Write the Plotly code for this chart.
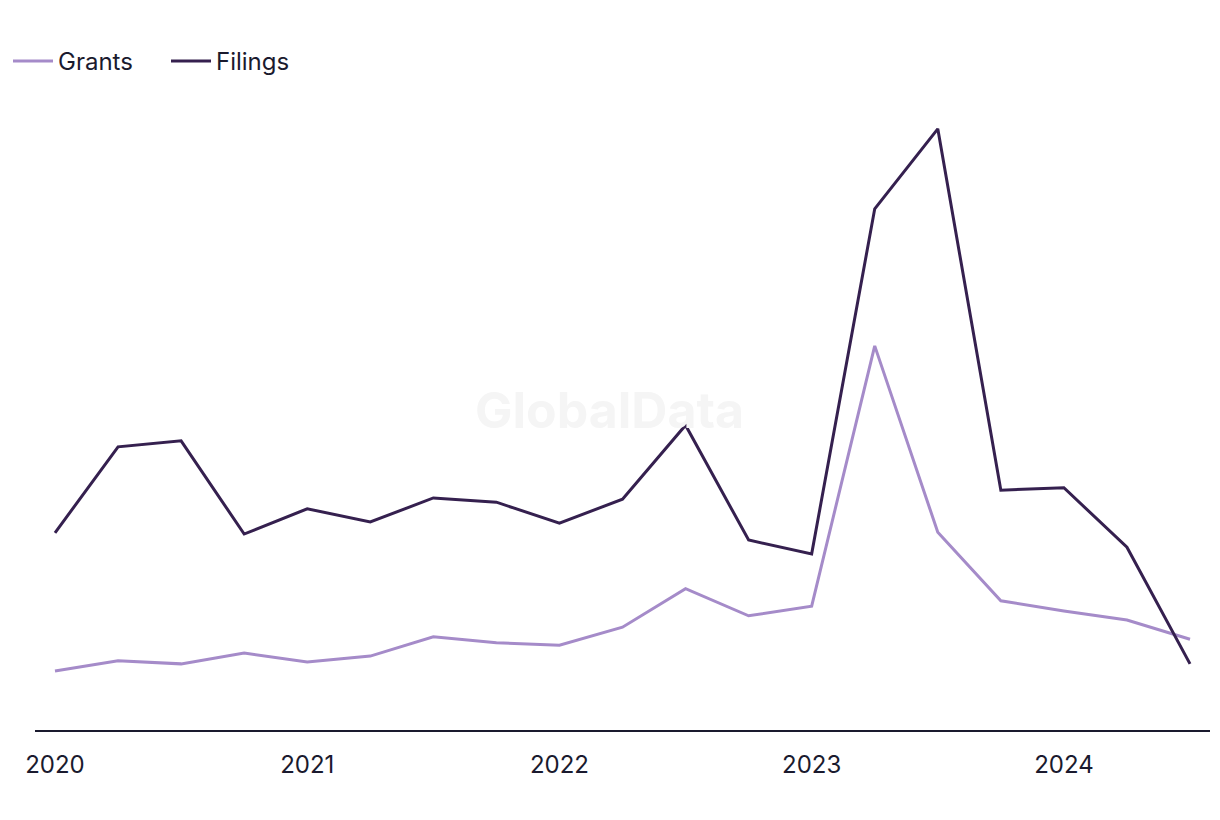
import plotly.graph_objects as go

quarters = ["2020 Q1", "2020 Q2", "2020 Q3", "2020 Q4",
            "2021 Q1", "2021 Q2", "2021 Q3", "2021 Q4",
            "2022 Q1", "2022 Q2", "2022 Q3", "2022 Q4",
            "2023 Q1", "2023 Q2", "2023 Q3", "2023 Q4",
            "2024 Q1", "2024 Q2", "2024 Q3"]
filings = [32.8, 47.1, 48.1, 32.6, 36.8, 34.6, 38.6, 37.9, 34.4, 38.4,
           50.7, 31.6, 29.3, 86.7, 100.0, 39.9, 40.3, 30.4, 11.0]
grants = [9.8, 11.5, 11.0, 12.8, 11.3, 12.3, 15.5, 14.5, 14.1, 17.1,
          23.5, 19.0, 20.6, 63.9, 32.9, 21.5, 19.8, 18.3, 15.1]
tick_labels = ["2020", "2021", "2022", "2023", "2024"]

idx = list(range(len(quarters)))
tickvals = [i for i, q in enumerate(quarters) if q.endswith("Q1")]

FONT = "Inter, Roboto, sans-serif"
TXT = "#1a1a2e"

fig = go.Figure()
fig.add_trace(go.Scatter(x=idx, y=grants, name="Grants", mode="lines",
                         line=dict(color="#a58bc9", width=3),
                         text=quarters, hovertemplate="%{text}: %{y}<extra>Grants</extra>"))
fig.add_trace(go.Scatter(x=idx, y=filings, name="Filings", mode="lines",
                         line=dict(color="#35204f", width=3),
                         text=quarters, hovertemplate="%{text}: %{y}<extra>Filings</extra>"))

fig.add_annotation(text="<b>GlobalData</b>", x=0.489, y=0.508, xref="paper", yref="paper",
                   xanchor="center", yanchor="middle", showarrow=False,
                   font=dict(size=50, color="#f5f5f5", family=FONT))

fig.update_layout(
    width=1220, height=820,
    paper_bgcolor="white", plot_bgcolor="white",
    margin=dict(l=27, r=18, t=92, b=98, autoexpand=False),
    font=dict(family=FONT, size=24, color=TXT),
    showlegend=True,
    legend=dict(orientation="h", xref="container", yref="container",
                x=0.0, xanchor="left", y=0.935, yanchor="middle",
                font=dict(size=24, color=TXT), itemwidth=40,
                entrywidth=103, entrywidthmode="pixels",
                bgcolor="rgba(0,0,0,0)"),
    xaxis=dict(range=[-0.317, 18.317], tickvals=tickvals, ticktext=tick_labels,
               showgrid=False, zeroline=False, showline=True, linecolor=TXT,
               linewidth=2, ticks="", ticklabelstandoff=12,
               tickfont=dict(size=24, color=TXT)),
    yaxis=dict(range=[0, 104.8], showgrid=False, zeroline=False, showline=False,
               showticklabels=False, ticks=""),
)

fig.write_html("out.html")
